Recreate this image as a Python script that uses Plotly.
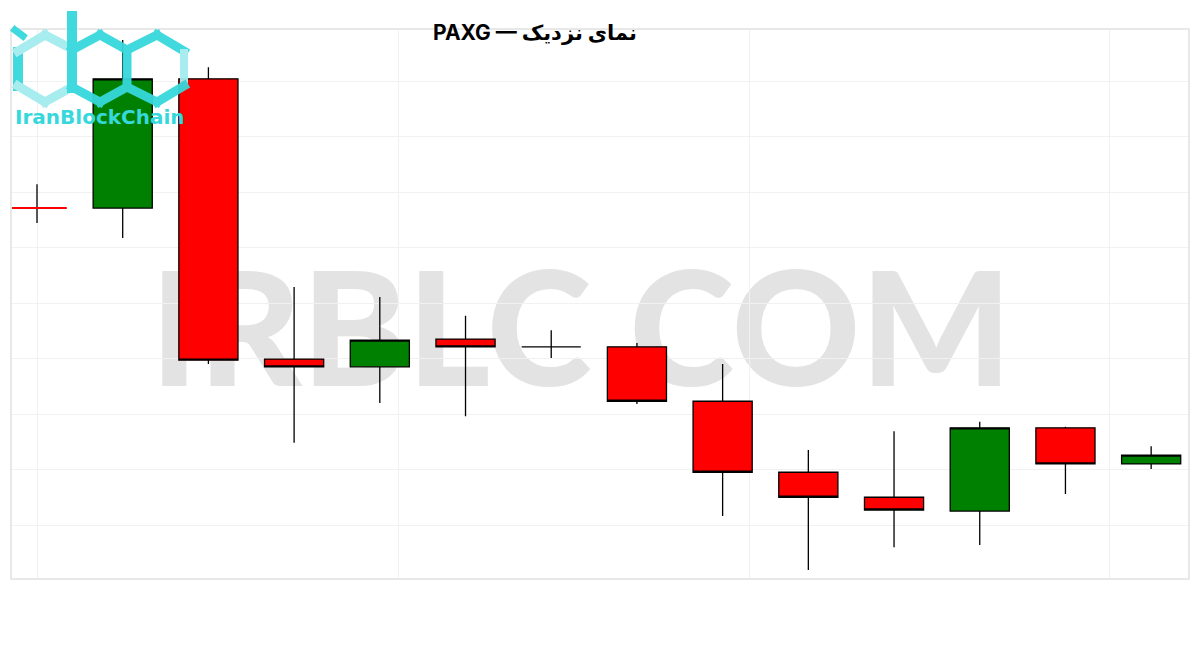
import base64
import plotly.graph_objects as go

# ---- data (price units) ----
candle_index = list(range(14))
open_ = [3357.1, 3357.1, 3380.4, 3329.9, 3328.5, 3333.5, 3332.1, 3332.1, 3322.3, 3309.5, 3305.0, 3302.5, 3317.5, 3311.0]
high = [3361.4, 3387.4, 3382.5, 3342.9, 3341.1, 3337.7, 3335.1, 3332.8, 3329.0, 3313.5, 3316.9, 3318.6, 3317.7, 3314.2]
low = [3354.4, 3351.7, 3329.0, 3314.8, 3322.0, 3319.6, 3330.1, 3321.8, 3301.6, 3291.9, 3296.0, 3296.4, 3305.6, 3310.1]
close = [3357.1, 3380.4, 3329.7, 3328.5, 3333.3, 3332.1, 3332.1, 3322.3, 3309.5, 3305.0, 3302.7, 3317.5, 3311.0, 3312.6]

y_grid_ticks = [3300, 3310, 3320, 3330, 3340, 3350, 3360, 3370, 3380]
x_grid_ticks = [0, 4.22, 8.31, 12.51]

title_text = "PAXG — نمای نزدیک"
watermark_text = "IRBLC COM"
logo_text = "IranBlockChain"

# ---- layout geometry (page pixels; page has an 8px body offset) ----
OFF = 8
W, H = 1200, 650
ML, MR, MT, MB = 4, 20, 22, 80
PW, PH = W - ML - MR, H - MT - MB


def px_x(p):
    return (p - OFF - ML) / PW


def px_y(p):
    return (H - MB - (p - OFF)) / PH


fig = go.Figure()

fig.add_trace(go.Candlestick(
    x=candle_index, open=open_, high=high, low=low, close=close,
    increasing=dict(fillcolor="#008000", line=dict(color="black", width=1.3)),
    decreasing=dict(fillcolor="#ff0000", line=dict(color="black", width=1.3)),
    whiskerwidth=0,
    showlegend=False, hoverinfo="skip",
))

# first (doji) candle body drawn as a red line
fig.add_trace(go.Candlestick(
    x=candle_index[:1], open=open_[:1], high=open_[:1], low=open_[:1], close=close[:1],
    increasing=dict(fillcolor="#ff0000", line=dict(color="#ff0000", width=2)),
    decreasing=dict(fillcolor="#ff0000", line=dict(color="#ff0000", width=2)),
    showlegend=False, hoverinfo="skip",
))

# watermark below the candles
fig.add_shape(
    type="rect", xref="paper", yref="paper",
    x0=px_x(150), x1=px_x(1012), y0=px_y(381), y1=px_y(263),
    line=dict(width=0), fillcolor="rgba(0,0,0,0)", layer="between",
    label=dict(text=watermark_text, textposition="middle center",
               font=dict(family="Lato", size=159, color="#e3e3e3", weight=900)),
)

# logo hexagons as svg image (page pixel coordinates, drawn from page (8,8))
dark = "#36d8dc"
light = "#a3ecee"
segs = [
    ((15, 30), (23, 36), dark, 7),
    ((18, 52), (18, 86), dark, 10),
    ((18, 51), (45, 35), light, 9),
    ((45, 35), (72, 49), light, 9),
    ((18, 86), (45, 102), light, 9),
    ((45, 102), (72, 87), light, 9),
    ((72, 16), (72, 88), dark, 10),
    ((72, 50), (100, 35), dark, 9),
    ((100, 35), (127, 50), dark, 9),
    ((127, 50), (127, 87), dark, 9),
    ((127, 87), (100, 102), dark, 9),
    ((100, 102), (72, 87), dark, 9),
    ((127, 50), (157, 35), dark, 9),
    ((157, 35), (184, 51), dark, 9),
    ((184, 53), (184, 84), light, 8),
    ((184, 86), (157, 102), dark, 9),
    ((157, 102), (127, 87), dark, 9),
]
lines = "".join(
    f'<line x1="{a[0]}" y1="{a[1]}" x2="{b[0]}" y2="{b[1]}" stroke="{c}" stroke-width="{w}" stroke-linecap="square"/>'
    for a, b, c, w in segs
)
svg = (f'<svg xmlns="http://www.w3.org/2000/svg" width="200" height="130" '
       f'viewBox="8 8 200 130" preserveAspectRatio="none">{lines}</svg>')
src = "data:image/svg+xml;base64," + base64.b64encode(svg.encode()).decode()
fig.add_layout_image(
    source=src, xref="paper", yref="paper",
    x=px_x(8), y=px_y(8), sizex=200 / PW, sizey=130 / PH,
    xanchor="left", yanchor="top", sizing="stretch", layer="above", opacity=0.95,
)

fig.add_annotation(
    text=logo_text, xref="paper", yref="paper",
    x=px_x(100), y=px_y(117), xanchor="center", yanchor="middle", showarrow=False,
    font=dict(family="DejaVu Sans", size=20, color=dark, weight="bold"),
)

fig.update_layout(
    width=W, height=H,
    margin=dict(l=ML, r=MR, t=MT, b=MB),
    paper_bgcolor="white", plot_bgcolor="white",
    boxgap=0.31, boxgroupgap=0,
    title=dict(text=title_text, x=(535 - OFF) / W, xanchor="center", xref="container",
               y=1 - (33 - OFF) / H, yanchor="middle", yref="container",
               font=dict(family="Inter, DejaVu Sans", size=21, color="black", weight="bold")),
    showlegend=False,
    xaxis=dict(range=[-0.2917, 13.43], tickvals=x_grid_ticks, showticklabels=False,
               showgrid=True, gridcolor="#f1f1f1", gridwidth=1, zeroline=False,
               showline=True, linecolor="#e8e8e8", linewidth=2, mirror=True,
               rangeslider=dict(visible=False), ticks=""),
    yaxis=dict(range=[3290.45, 3389.19], tickvals=y_grid_ticks, showticklabels=False,
               showgrid=True, gridcolor="#f1f1f1", gridwidth=1, zeroline=False,
               showline=True, linecolor="#e8e8e8", linewidth=2, mirror=True, ticks=""),
)

fig.write_html("out.html")
